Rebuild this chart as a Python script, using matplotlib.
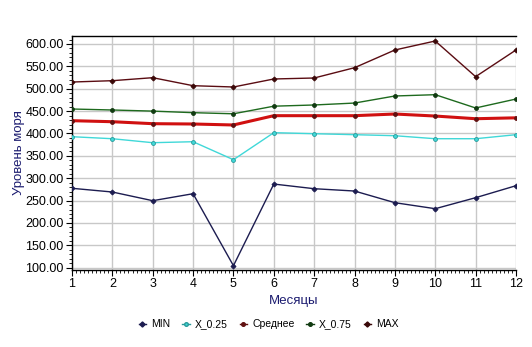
import numpy as np
import matplotlib.pyplot as plt
from matplotlib.ticker import MultipleLocator, FormatStrFormatter
from matplotlib.lines import Line2D

plt.rcParams['font.family'] = ['Liberation Sans', 'DejaVu Sans']

months = [1, 2, 3, 4, 5, 6, 7, 8, 9, 10, 11, 12]
v_min = [277.5, 269.2, 249.8, 265.4, 104.5, 287.0, 276.6, 271.4, 245.3, 231.9, 256.5, 283.3]
v_q25 = [392.8, 388.3, 379.4, 381.6, 341.4, 401.8, 399.5, 397.3, 395.0, 388.3, 388.3, 397.3]
v_mean = [428.6, 426.3, 421.9, 421.2, 419.0, 439.8, 439.8, 439.8, 443.5, 439.0, 433.0, 435.0]
v_q75 = [454.7, 452.5, 450.0, 446.5, 444.0, 461.0, 463.7, 468.0, 483.8, 486.7, 457.0, 477.0]
v_max = [515.0, 518.0, 524.7, 506.8, 503.9, 521.8, 524.0, 547.0, 586.6, 606.7, 527.0, 586.6]

series = [
    ("MIN", v_min, "#1c1c50", "#1c1c50", "D", 1.0),
    ("X_0.25", v_q25, "#40d8d8", "#2a9a9a", "o", 1.0),
    ("Среднее", v_mean, "#d01010", "#601010", "o", 2.2),
    ("X_0.75", v_q75, "#1e6a1e", "#103a10", "o", 1.0),
    ("MAX", v_max, "#5a0c12", "#3a0808", "D", 1.0),
]

fig = plt.figure(figsize=(5.32, 3.47), dpi=100)
ax = fig.add_axes([0.1353, 0.2219, 0.8346, 0.6744])

for name, vals, col, mcol, mk, lw in series:
    ax.plot(months, vals, color=col, lw=lw, marker=mk, ms=2.8 if mk == "o" else 2.6,
            mfc=col if name == "X_0.25" else mcol, mec=mcol, mew=0.6, zorder=3)

ax.set_xlim(1, 12)
ax.set_ylim(94.9, 617.9)
ax.xaxis.set_major_locator(MultipleLocator(1))
ax.xaxis.set_minor_locator(MultipleLocator(0.1))
ax.yaxis.set_major_locator(MultipleLocator(50))
ax.yaxis.set_minor_locator(MultipleLocator(10))
ax.yaxis.set_major_formatter(FormatStrFormatter("%.2f"))
ax.tick_params(axis="both", which="major", length=4, width=0.8, labelsize=9, pad=2)
ax.tick_params(axis="both", which="minor", length=2.5, width=0.6)
ax.grid(True, which="major", color="#c8c8c8", lw=1.0, zorder=0)
ax.set_axisbelow(True)
ax.spines["right"].set_visible(False)
for s in ["left", "bottom", "top"]:
    ax.spines[s].set_color("black")
    ax.spines[s].set_linewidth(1.0)

ax.set_xlabel("Месяцы", color="#1c1c70", fontsize=9.5, labelpad=3)
ax.set_ylabel("Уровень моря", color="#1c1c70", fontsize=9.5, labelpad=0)

handles = [Line2D([0], [0], color=mcol, lw=1.0, marker=mk, ms=2.6,
                  mfc=col if name == "X_0.25" else mcol, mec=mcol)
           for name, vals, col, mcol, mk, lw in series]
fig.legend(handles, [s[0] for s in series], loc="center", bbox_to_anchor=(0.505, 0.065),
           ncol=5, frameon=False, fontsize=7.5, handlelength=0.7, handletextpad=0.5,
           columnspacing=1.15)

fig.savefig("out.png", dpi=100)
